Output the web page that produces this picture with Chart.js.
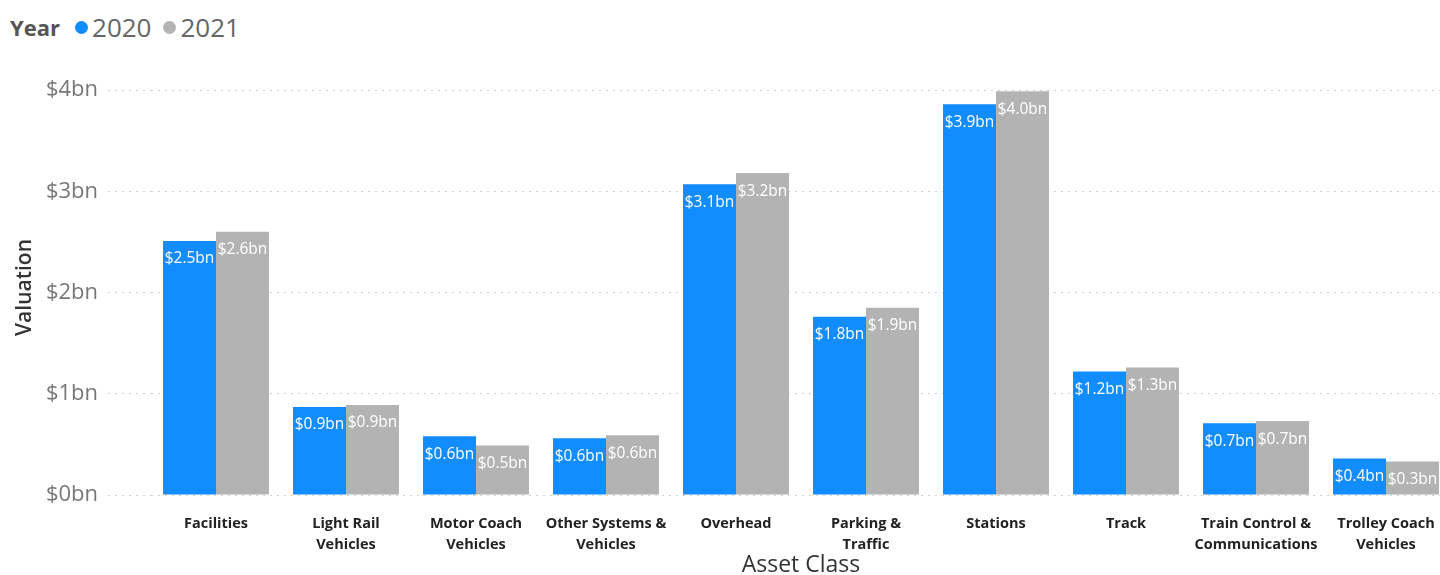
<!DOCTYPE html>
<html>
<head>
<meta charset="utf-8">
<script src="https://cdn.jsdelivr.net/npm/chart.js@4.4.1/dist/chart.umd.min.js"></script>
<style>
    html, body { margin: 0; padding: 0; background: #fff; overflow: hidden; width: 1440px; height: 575px; }
    #wrap { position: absolute; left: 0; top: 0; width: 1455px; height: 575px; }
    #legend { position: absolute; left: 10px; top: 9px; font-family: "Segoe UI", "Open Sans", sans-serif; display: flex; align-items: center; white-space: nowrap; }
    #legend .title { font-weight: bold; font-size: 22px; color: #555; margin-right: 15px; }
    #legend .item { display: flex; align-items: center; font-size: 26px; color: #666; margin-right: 12px; }
    #legend .dot { width: 13px; height: 13px; border-radius: 50%; margin-right: 4px; }
</style>
</head>
<body>
<div id="legend"></div>
<div id="wrap"><canvas id="valuationChart"></canvas></div>
<script>
const categories = [
    ["Facilities"],
    ["Light Rail", "Vehicles"],
    ["Motor Coach", "Vehicles"],
    ["Other Systems &", "Vehicles"],
    ["Overhead"],
    ["Parking &", "Traffic"],
    ["Stations"],
    ["Track"],
    ["Train Control &", "Communications"],
    ["Trolley Coach", "Vehicles"],
];

// valuation in $bn
const values2020 = [2.51, 0.87, 0.58, 0.56, 3.07, 1.76, 3.86, 1.22, 0.71, 0.36];
const values2021 = [2.60, 0.89, 0.49, 0.59, 3.18, 1.85, 3.99, 1.26, 0.73, 0.33];

const yTicks = [0, 1, 2, 3, 4];

const colors = [
    "#118DFF", // 2020 blue
    "#B3B3B3", // 2021 gray
];

const font = "'Segoe UI', 'Open Sans', sans-serif";

// white value labels inside the top of each bar
const barLabels = {
    id: "barLabels",
    afterDatasetsDraw(chart) {
        const ctx = chart.ctx;
        ctx.save();
        ctx.fillStyle = "#fff";
        ctx.font = "15.5px " + font;
        ctx.textAlign = "center";
        ctx.textBaseline = "middle";
        chart.data.datasets.forEach((ds, i) => {
            chart.getDatasetMeta(i).data.forEach((bar, j) => {
                ctx.fillText("$" + ds.data[j].toFixed(1) + "bn", bar.x, bar.y + 18);
            });
        });
        ctx.restore();
    },
};

const ctx = document.getElementById("valuationChart").getContext("2d");
const chart = new Chart(ctx, {
    type: "bar",
    data: {
        labels: categories,
        datasets: [
            { label: "2020", data: values2020, backgroundColor: colors[0] },
            { label: "2021", data: values2021, backgroundColor: colors[1] },
        ],
    },
    options: {
        responsive: true,
        maintainAspectRatio: false,
        animation: false,
        layout: { padding: { top: 80, right: 4, left: 0, bottom: 0 } },
        datasets: {
            bar: { categoryPercentage: 0.815, barPercentage: 1.0 },
        },
        plugins: {
            legend: { display: false },
            tooltip: { enabled: false },
        },
        scales: {
            x: {
                grid: { display: false },
                border: { display: false },
                ticks: {
                    color: "#222",
                    font: { family: font, size: 14.5, weight: "bold", lineHeight: 1.45 },
                    padding: 10,
                    maxRotation: 0,
                    autoSkip: false,
                },
                title: {
                    display: true,
                    text: "Asset Class",
                    color: "#333",
                    font: { family: font, size: 23, lineHeight: 0.8 },
                    padding: { top: 0, bottom: 0 },
                },
                afterFit(scale) { scale.height = 80; },
            },
            y: {
                min: 0,
                max: 4.1,
                border: { display: false, dash: [2, 5] },
                grid: {
                    color: "#cfcfcf",
                    lineWidth: 1,
                    tickBorderDash: [2, 5],
                    tickLength: 43,
                    drawTicks: true,
                },
                ticks: {
                    stepSize: 1,
                    color: "#777",
                    padding: 10,
                    font: { family: font, size: 22 },
                    callback: (v) => "$" + v + "bn",
                },
                afterBuildTicks(scale) {
                    scale.ticks = yTicks.map((v) => ({ value: v }));
                },
                title: {
                    display: true,
                    text: "Valuation",
                    color: "#333",
                    font: { family: font, size: 21, weight: "600", lineHeight: 1.2 },
                    padding: { top: 12, bottom: 0 },
                },
                afterFit(scale) { scale.width = 151; },
            },
        },
    },
    plugins: [barLabels],
});

// legend in the Power BI style: "Year ● 2020 ● 2021"
const legend = document.getElementById("legend");
legend.innerHTML = '<span class="title">Year</span>' +
    chart.data.datasets.map((ds) =>
        '<span class="item"><span class="dot" style="background:' + ds.backgroundColor + '"></span>' + ds.label + "</span>"
    ).join("");
</script>
</body>
</html>
